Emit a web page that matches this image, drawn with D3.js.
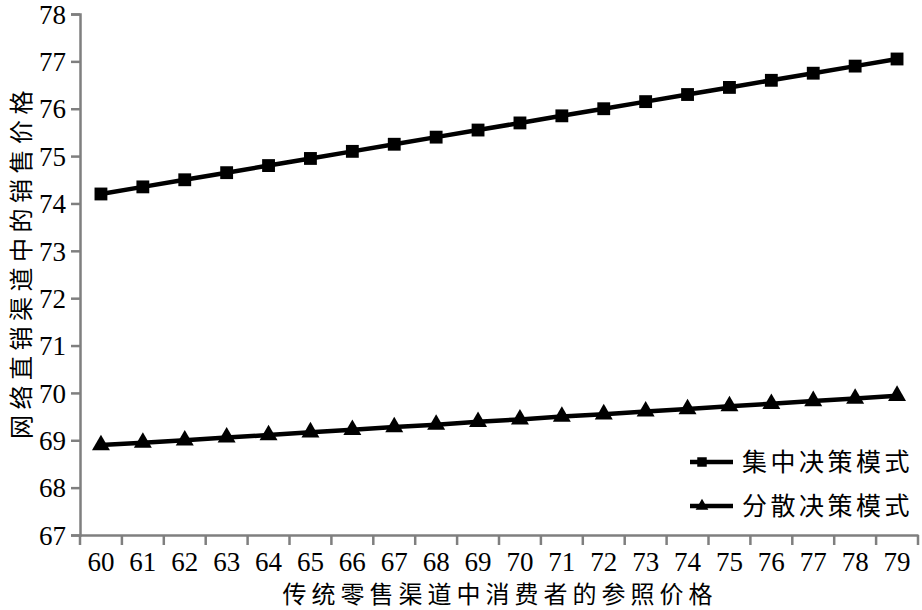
<!DOCTYPE html>
<html><head><meta charset="utf-8">
<script src="https://cdn.jsdelivr.net/npm/d3@7"></script>
<style>body{margin:0;background:#fff;}svg{display:block;}</style>
</head><body>
<script>
const categories = [60,61,62,63,64,65,66,67,68,69,70,71,72,73,74,75,76,77,78,79];
const centralized = [74.2,74.35,74.5,74.65,74.8,74.95,75.1,75.25,75.4,75.55,75.7,75.85,76.0,76.15,76.3,76.45,76.6,76.75,76.9,77.05];
const decentralized = [68.9,68.95,69.0,69.06,69.11,69.17,69.22,69.28,69.33,69.39,69.44,69.5,69.55,69.61,69.66,69.72,69.77,69.83,69.88,69.94];
const yTicks = [67,68,69,70,71,72,73,74,75,76,77,78];
const seriesNames = ["集中决策模式","分散决策模式"];
const xTitle = "传统零售渠道中消费者的参照价格";
const yTitle = "网络直销渠道中的销售价格";

(function(){
const W=922,H=610;
const svg=d3.select("body").append("svg").attr("width",W).attr("height",H);
const mL=80,mR=918,mT=14,mB=535;
const x=d3.scaleBand().domain(categories).range([mL,mR]);
const y=d3.scaleLinear().domain([67,78]).range([mB,mT]);
const axisCol="#7f7f7f";
const SERIF="Liberation Serif, Times New Roman, Tinos, DejaVu Serif, serif";
const CJK="Noto Sans CJK SC, Noto Sans, sans-serif";

// y axis
const ya=svg.append("g").attr("transform",`translate(${mL},0)`)
  .call(d3.axisLeft(y).tickValues(yTicks).tickSize(9).tickPadding(5).tickFormat(d3.format("d")));
ya.attr("font-family",SERIF).attr("font-size",27);
ya.select(".domain").attr("stroke",axisCol).attr("stroke-width",2.5);
ya.selectAll(".tick line").attr("stroke",axisCol).attr("stroke-width",2.5);
ya.selectAll(".tick text").style("font-family",SERIF).style("font-size","27px").attr("fill","#000").attr("dy","0.34em");

// x axis
const xa=svg.append("g").attr("transform",`translate(0,${mB})`)
  .call(d3.axisBottom(x).tickSize(0).tickPadding(17).tickFormat(d3.format("d")));
xa.attr("font-family",SERIF).attr("font-size",27);
xa.select(".domain").attr("stroke",axisCol).attr("stroke-width",2.5);
xa.selectAll(".tick text").style("font-family",SERIF).style("font-size","27px").attr("fill","#000");
const bounds=categories.map(c=>x(c)).concat([mR]);
xa.selectAll(".btick").data(bounds).enter().append("line")
  .attr("x1",d=>d).attr("x2",d=>d).attr("y1",0).attr("y2",10)
  .attr("stroke",axisCol).attr("stroke-width",2.5);

// titles
svg.append("text").attr("x",500).attr("y",603).attr("text-anchor","middle")
  .style("font-family",CJK).style("font-size","24px").attr("letter-spacing","5px").text(xTitle);
svg.append("text").attr("transform",`translate(30,262) rotate(-90)`).attr("text-anchor","middle")
  .style("font-family",CJK).style("font-size","24px").attr("letter-spacing","5.5px").text(yTitle);

const line=d3.line().x((d,i)=>x(categories[i])+x.bandwidth()/2).y(d=>y(d));
const sq=d3.symbol().type(d3.symbolSquare).size(165);
const tri=d3.symbol().type(d3.symbolTriangle).size(140);

function drawSeries(data,sym){
  svg.append("path").datum(data).attr("d",line).attr("fill","none").attr("stroke","#000").attr("stroke-width",4.5);
  svg.selectAll(null).data(data).enter().append("path")
    .attr("d",sym).attr("fill","#000")
    .attr("transform",(d,i)=>`translate(${x(categories[i])+x.bandwidth()/2},${y(d)})`);
}
drawSeries(centralized,sq);
drawSeries(decentralized,tri);

// legend
const leg=[{name:seriesNames[0],sym:d3.symbol().type(d3.symbolSquare).size(90),y:462},
           {name:seriesNames[1],sym:d3.symbol().type(d3.symbolTriangle).size(70),y:506}];
leg.forEach(l=>{
  svg.append("line").attr("x1",690).attr("x2",733).attr("y1",l.y).attr("y2",l.y).attr("stroke","#000").attr("stroke-width",4.5);
  svg.append("path").attr("d",l.sym).attr("transform",`translate(702,${l.y})`).attr("fill","#000");
  svg.append("text").attr("x",742).attr("y",l.y).attr("dy","0.36em")
    .style("font-family",CJK).style("font-size","25px").attr("letter-spacing","3.5px").text(l.name);
});
})();
</script>
</body></html>
